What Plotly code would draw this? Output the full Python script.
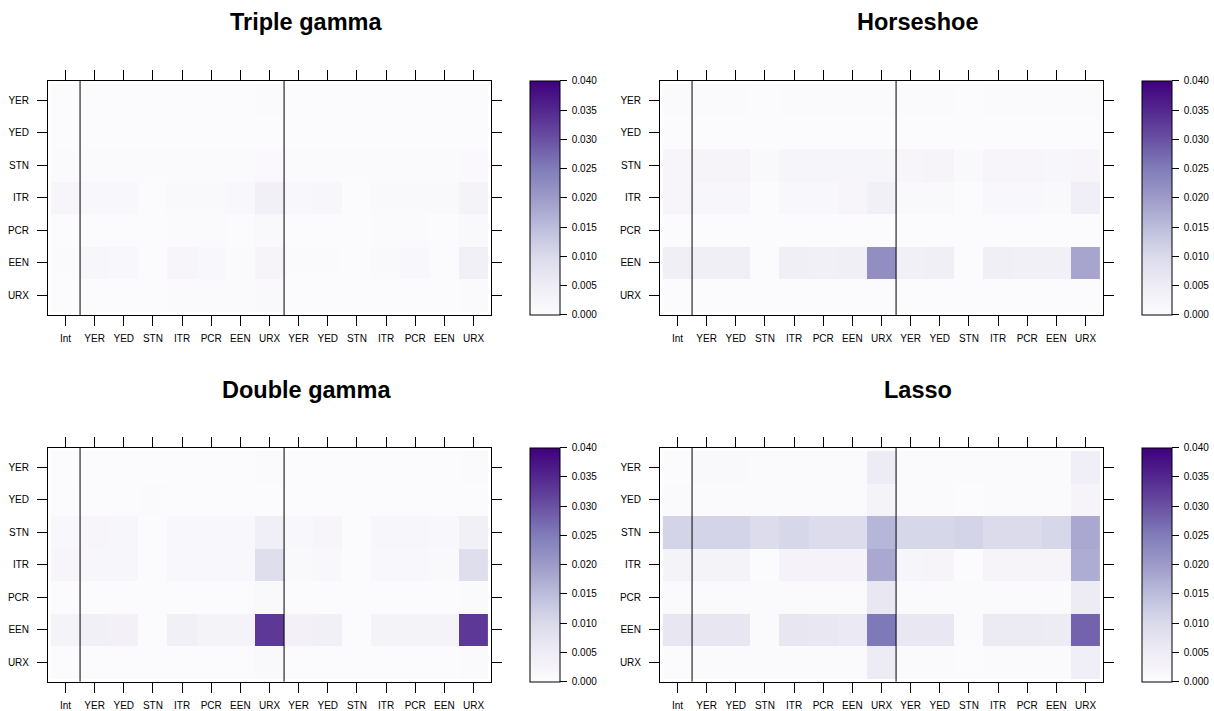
import plotly.graph_objects as go

# Row / column labels of the coefficient matrices
row_labels = ["YER", "YED", "STN", "ITR", "PCR", "EEN", "URX"]
col_labels = ["Int", "YER", "YED", "STN", "ITR", "PCR", "EEN", "URX",
              "YER", "YED", "STN", "ITR", "PCR", "EEN", "URX"]

# Posterior variances, one row per equation (top to bottom)
triple_gamma = [
    [0.0005, 0.0005, 0.0005, 0.0004, 0.0005, 0.0005, 0.0005, 0.0006, 0.0005, 0.0005, 0.0004, 0.0005, 0.0005, 0.0005, 0.0005],
    [0.0004, 0.0004, 0.0004, 0.0004, 0.0004, 0.0004, 0.0004, 0.0004, 0.0004, 0.0004, 0.0003, 0.0004, 0.0004, 0.0004, 0.0004],
    [0.0008, 0.0008, 0.0008, 0.0006, 0.0008, 0.0008, 0.0008, 0.0009, 0.0008, 0.0008, 0.0006, 0.0008, 0.0008, 0.0008, 0.0009],
    [0.0020, 0.0015, 0.0015, 0.0005, 0.0010, 0.0010, 0.0015, 0.0040, 0.0015, 0.0018, 0.0003, 0.0012, 0.0012, 0.0010, 0.0030],
    [0.0005, 0.0005, 0.0005, 0.0004, 0.0006, 0.0006, 0.0005, 0.0010, 0.0005, 0.0005, 0.0004, 0.0006, 0.0006, 0.0005, 0.0012],
    [0.0008, 0.0018, 0.0015, 0.0003, 0.0020, 0.0015, 0.0007, 0.0025, 0.0008, 0.0008, 0.0003, 0.0012, 0.0015, 0.0005, 0.0040],
    [0.0005, 0.0005, 0.0005, 0.0004, 0.0006, 0.0006, 0.0006, 0.0010, 0.0005, 0.0005, 0.0004, 0.0005, 0.0005, 0.0005, 0.0007],
]

horseshoe = [
    [0.0007, 0.0006, 0.0006, 0.0004, 0.0008, 0.0008, 0.0008, 0.0008, 0.0006, 0.0006, 0.0004, 0.0006, 0.0006, 0.0006, 0.0007],
    [0.0003, 0.0003, 0.0003, 0.0003, 0.0003, 0.0003, 0.0003, 0.0003, 0.0003, 0.0003, 0.0003, 0.0003, 0.0003, 0.0003, 0.0003],
    [0.0020, 0.0025, 0.0025, 0.0012, 0.0022, 0.0022, 0.0022, 0.0022, 0.0020, 0.0025, 0.0012, 0.0020, 0.0020, 0.0018, 0.0020],
    [0.0020, 0.0018, 0.0018, 0.0005, 0.0015, 0.0015, 0.0020, 0.0040, 0.0012, 0.0012, 0.0003, 0.0015, 0.0015, 0.0012, 0.0045],
    [0.0003, 0.0003, 0.0003, 0.0003, 0.0003, 0.0003, 0.0003, 0.0003, 0.0003, 0.0003, 0.0003, 0.0003, 0.0003, 0.0003, 0.0003],
    [0.0042, 0.0042, 0.0042, 0.0005, 0.0042, 0.0040, 0.0042, 0.0220, 0.0040, 0.0042, 0.0005, 0.0042, 0.0038, 0.0038, 0.0185],
    [0.0005, 0.0005, 0.0005, 0.0004, 0.0005, 0.0005, 0.0005, 0.0005, 0.0005, 0.0005, 0.0004, 0.0005, 0.0005, 0.0005, 0.0005],
]

double_gamma = [
    [0.0004, 0.0004, 0.0004, 0.0004, 0.0004, 0.0004, 0.0004, 0.0008, 0.0004, 0.0004, 0.0004, 0.0004, 0.0004, 0.0004, 0.0008],
    [0.0003, 0.0003, 0.0003, 0.0006, 0.0003, 0.0003, 0.0003, 0.0004, 0.0003, 0.0003, 0.0003, 0.0003, 0.0003, 0.0003, 0.0003],
    [0.0015, 0.0020, 0.0018, 0.0004, 0.0015, 0.0015, 0.0015, 0.0045, 0.0015, 0.0020, 0.0004, 0.0018, 0.0018, 0.0015, 0.0040],
    [0.0020, 0.0018, 0.0018, 0.0004, 0.0015, 0.0015, 0.0015, 0.0090, 0.0012, 0.0015, 0.0003, 0.0015, 0.0015, 0.0012, 0.0090],
    [0.0004, 0.0004, 0.0004, 0.0004, 0.0004, 0.0004, 0.0004, 0.0010, 0.0004, 0.0004, 0.0004, 0.0004, 0.0004, 0.0004, 0.0008],
    [0.0030, 0.0038, 0.0035, 0.0004, 0.0040, 0.0030, 0.0030, 0.0330, 0.0035, 0.0038, 0.0004, 0.0030, 0.0030, 0.0030, 0.0330],
    [0.0005, 0.0005, 0.0005, 0.0004, 0.0005, 0.0005, 0.0005, 0.0012, 0.0005, 0.0005, 0.0004, 0.0005, 0.0005, 0.0005, 0.0008],
]

lasso = [
    [0.0005, 0.0010, 0.0010, 0.0008, 0.0008, 0.0008, 0.0008, 0.0055, 0.0008, 0.0008, 0.0006, 0.0008, 0.0008, 0.0008, 0.0045],
    [0.0008, 0.0008, 0.0008, 0.0008, 0.0008, 0.0008, 0.0008, 0.0030, 0.0008, 0.0008, 0.0003, 0.0008, 0.0008, 0.0008, 0.0025],
    [0.0110, 0.0110, 0.0110, 0.0095, 0.0105, 0.0095, 0.0095, 0.0160, 0.0105, 0.0105, 0.0110, 0.0098, 0.0098, 0.0105, 0.0180],
    [0.0030, 0.0030, 0.0030, 0.0004, 0.0028, 0.0028, 0.0028, 0.0180, 0.0022, 0.0025, 0.0003, 0.0025, 0.0025, 0.0025, 0.0175],
    [0.0008, 0.0008, 0.0008, 0.0008, 0.0008, 0.0006, 0.0008, 0.0065, 0.0008, 0.0008, 0.0006, 0.0008, 0.0008, 0.0008, 0.0055],
    [0.0068, 0.0068, 0.0068, 0.0006, 0.0068, 0.0065, 0.0060, 0.0255, 0.0065, 0.0065, 0.0006, 0.0058, 0.0058, 0.0055, 0.0280],
    [0.0004, 0.0007, 0.0007, 0.0007, 0.0007, 0.0007, 0.0007, 0.0055, 0.0007, 0.0007, 0.0005, 0.0007, 0.0007, 0.0007, 0.0045],
]

titles = ["Triple gamma", "Horseshoe", "Double gamma", "Lasso"]
matrices = [triple_gamma, horseshoe, double_gamma, lasso]
cbar_ticks = [0.0, 0.005, 0.01, 0.015, 0.02, 0.025, 0.03, 0.035, 0.04]

# RColorBrewer "Purples"
purples = ["#FCFBFD", "#EFEDF5", "#DADAEB", "#BCBDDC", "#9E9AC8",
           "#807DBA", "#6A51A3", "#54278F", "#3F007D"]
colorscale = [[i / (len(purples) - 1), c] for i, c in enumerate(purples)]

W, H = 1214, 711
FONT = "Liberation Sans, Arial, Helvetica, sans-serif"

# panel boxes in pixels: (left, right, top, bottom)
panels = [
    (48, 491, 80.7, 315),
    (660, 1103, 80.7, 315),
    (48, 491, 447.7, 681.7),
    (660, 1103, 447.7, 681.7),
]
cbar_left = [530, 1142, 530, 1142]
title_x = [306, 917.5, 306, 917.5]
title_y = [22, 22, 390, 390]

fig = go.Figure()
xs = list(range(len(col_labels)))
ys = list(range(len(row_labels)))

for k, (mat, box) in enumerate(zip(matrices, panels)):
    left, right, top, bottom = box
    sfx = "" if k == 0 else str(k + 1)
    fig.add_trace(go.Heatmap(
        z=mat, x=xs, y=ys,
        xaxis="x" + sfx, yaxis="y" + sfx,
        colorscale=colorscale, zmin=0, zmax=0.04,
        xgap=0, ygap=0,
        colorbar=dict(
            x=cbar_left[k] / W, xanchor="left", xpad=0,
            y=1 - (top + bottom) / 2 / H, yanchor="middle", ypad=0,
            len=bottom - top, lenmode="pixels",
            thickness=30, thicknessmode="pixels",
            outlinewidth=1, outlinecolor="black",
            tickmode="array", tickvals=cbar_ticks,
            ticktext=["\u00a0" + f"{v:.3f}" for v in cbar_ticks],
            ticks="outside", ticklen=7, tickcolor="black",
            tickfont=dict(family=FONT, size=10, color="black"),
        ),
        hovertemplate="%{z:.4f}<extra></extra>",
    ))
    ax = dict(
        showgrid=False, zeroline=False, showline=True, linecolor="black",
        linewidth=1, mirror="ticks", ticks="outside", ticklen=10,
        tickcolor="black", tickwidth=1,
        tickfont=dict(family=FONT, size=10, color="black"),
    )
    fig.update_layout({
        "xaxis" + sfx: dict(
            ax, domain=[left / W, right / W], range=[-0.6, 14.6],
            tickmode="array", tickvals=xs, ticktext=col_labels,
            anchor="y" + sfx, ticklabelstandoff=4,
        ),
        "yaxis" + sfx: dict(
            ax, domain=[1 - bottom / H, 1 - top / H], range=[6.6, -0.6],
            tickmode="array", tickvals=ys, ticktext=row_labels,
            anchor="x" + sfx, ticklabelstandoff=6,
        ),
    })
    # separators: intercept | lag 1 | lag 2
    for xv in (0.5, 7.5):
        fig.add_shape(type="line", xref="x" + sfx, yref="y" + sfx + " domain",
                      x0=xv, x1=xv, y0=0, y1=1,
                      line=dict(color="black", width=1))
    fig.add_annotation(
        text="<b>" + titles[k] + "</b>", xref="paper", yref="paper",
        x=title_x[k] / W, y=1 - title_y[k] / H, xanchor="center",
        yanchor="middle", showarrow=False,
        font=dict(family=FONT, size=23.5, color="black"),
    )

fig.update_layout(
    width=W, height=H, margin=dict(l=0, r=0, t=0, b=0),
    paper_bgcolor="white", plot_bgcolor="white", showlegend=False,
)

fig.write_html("out.html")
